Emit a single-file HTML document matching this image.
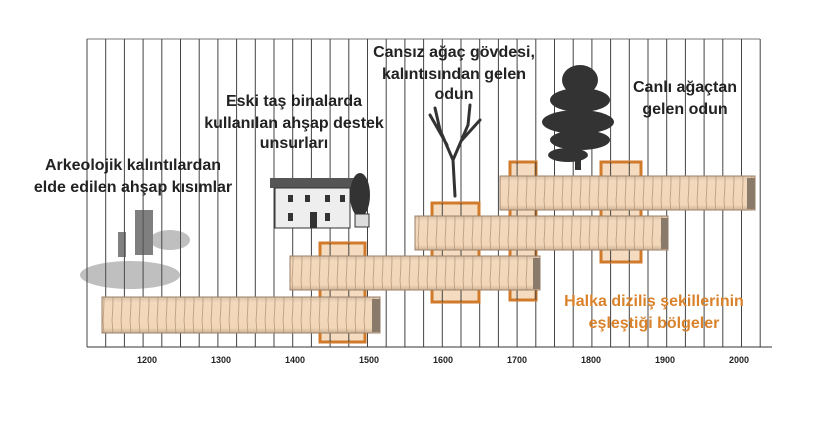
<!DOCTYPE html>
<html><head><meta charset="utf-8"><style>
body{margin:0;background:#fff;}
svg text{font-family:"Liberation Sans",sans-serif;font-weight:bold;}
</style></head><body>
<svg width="825" height="428" viewBox="0 0 825 428" xmlns="http://www.w3.org/2000/svg">
<defs>
<linearGradient id="wood" x1="0" y1="0" x2="0" y2="1">
<stop offset="0" stop-color="#d9c2a8"/><stop offset="0.15" stop-color="#f3d9bd"/><stop offset="0.85" stop-color="#f2d6b8"/><stop offset="1" stop-color="#cdb296"/>
</linearGradient>
<pattern id="rings" width="9" height="40" patternUnits="userSpaceOnUse">
<path d="M4 0 Q6 20 4 40" stroke="#b89878" stroke-width="0.8" fill="none"/>
</pattern>
</defs>
<!-- grid -->
<line x1="87" y1="39" x2="760" y2="39" stroke="#777"/>
<path stroke="#444" stroke-width="1" fill="none" d="M87 39V347M105.7 39V347M124.4 39V347M143.1 39V347M161.8 39V347M180.5 39V347M199.2 39V347M217.9 39V347M236.6 39V347M255.3 39V347M274 39V347M292.7 39V347M311.4 39V347M330.1 39V347M348.8 39V347M367.5 39V347M386.2 39V347M404.9 39V347M423.6 39V347M442.3 39V347M461 39V347M479.7 39V347M498.4 39V347M517.1 39V347M535.8 39V347M554.5 39V347M573.2 39V347M591.9 39V347M610.6 39V347M629.3 39V347M648 39V347M666.7 39V347M685.4 39V347M704.1 39V347M722.8 39V347M741.5 39V347M760.2 39V347"/>
<line x1="87" y1="347" x2="772" y2="347" stroke="#333"/>
<!-- axis labels -->
<g font-size="9" fill="#222" text-anchor="middle">
<text x="147" y="363">1200</text><text x="221" y="363">1300</text><text x="295" y="363">1400</text>
<text x="369" y="363">1500</text><text x="443" y="363">1600</text><text x="517" y="363">1700</text>
<text x="591" y="363">1800</text><text x="665" y="363">1900</text><text x="739" y="363">2000</text>
</g>
<!-- orange boxes -->
<g fill="#f5dcc0" stroke="#d07a2a" stroke-width="3">
<rect x="320" y="243" width="45" height="99"/>
<rect x="432" y="203" width="47" height="99"/>
<rect x="510" y="162" width="26" height="138"/>
<rect x="601" y="162" width="40" height="100"/>
</g>
<path stroke="#444" stroke-width="1" d="M330.1 243V342M348.8 243V342M442.3 203V302M461 203V302M517.1 162V300M535.8 162V300M610.6 162V262M629.3 162V262"/>
<!-- logs -->
<g stroke="#9a8068" stroke-width="1">
<rect x="102" y="297" width="278" height="36" fill="url(#wood)"/>
<rect x="102" y="297" width="278" height="36" fill="url(#rings)"/>
<rect x="290" y="256" width="250" height="34" fill="url(#wood)"/>
<rect x="290" y="256" width="250" height="34" fill="url(#rings)"/>
<rect x="415" y="216" width="253" height="34" fill="url(#wood)"/>
<rect x="415" y="216" width="253" height="34" fill="url(#rings)"/>
<rect x="500" y="176" width="255" height="34" fill="url(#wood)"/>
<rect x="500" y="176" width="255" height="34" fill="url(#rings)"/>
</g>
<g fill="#8a7a6a">
<rect x="372" y="299" width="8" height="33"/><rect x="747" y="178" width="8" height="31"/>
<rect x="533" y="258" width="7" height="31"/><rect x="661" y="218" width="7" height="31"/>
</g>
<!-- castle illustration -->
<g fill="#555" opacity="0.75">
<rect x="135" y="210" width="18" height="45"/>
<rect x="118" y="232" width="8" height="25"/>
<ellipse cx="130" cy="275" rx="50" ry="14" opacity="0.5"/>
<ellipse cx="170" cy="240" rx="20" ry="10" opacity="0.5"/>
</g>
<!-- house illustration -->
<g>
<rect x="270" y="178" width="85" height="10" fill="#555"/>
<rect x="275" y="188" width="75" height="40" fill="#eee" stroke="#333"/>
<g fill="#333"><rect x="288" y="195" width="5" height="7"/><rect x="305" y="195" width="5" height="7"/><rect x="325" y="195" width="5" height="7"/><rect x="340" y="195" width="5" height="7"/><rect x="288" y="213" width="5" height="8"/><rect x="325" y="213" width="5" height="8"/><rect x="310" y="212" width="7" height="16"/></g>
<ellipse cx="360" cy="195" rx="10" ry="22" fill="#333"/>
<rect x="355" y="214" width="14" height="13" fill="#ddd" stroke="#333"/>
</g>
<!-- dead tree -->
<g stroke="#333" stroke-width="3" fill="none" stroke-linecap="round">
<path d="M455 196 L453 160 L440 130 M453 160 L468 125 M447 145 L430 115 M462 140 L480 120 M440 130 L435 108 M468 125 L470 105"/>
</g>
<!-- live tree -->
<g fill="#333">
<rect x="575" y="120" width="6" height="50"/>
<ellipse cx="580" cy="80" rx="18" ry="15"/>
<ellipse cx="580" cy="100" rx="30" ry="12"/>
<ellipse cx="578" cy="122" rx="36" ry="12"/>
<ellipse cx="580" cy="140" rx="30" ry="10"/>
<ellipse cx="568" cy="155" rx="20" ry="7"/>
</g>
<!-- labels -->
<g font-size="16" fill="#222" text-anchor="middle">
<text x="133" y="170">Arkeolojik kalıntılardan</text>
<text x="133" y="192">elde edilen ahşap kısımlar</text>
<text x="294" y="106">Eski taş binalarda</text>
<text x="294" y="128">kullanılan ahşap destek</text>
<text x="294" y="148">unsurları</text>
<text x="454" y="57">Cansız ağaç gövdesi,</text>
<text x="454" y="79">kalıntısından gelen</text>
<text x="454" y="99">odun</text>
<text x="685" y="92">Canlı ağaçtan</text>
<text x="685" y="114">gelen odun</text>
</g>
<g font-size="16" fill="#d9822b" text-anchor="middle">
<text x="654" y="306">Halka diziliş şekillerinin</text>
<text x="654" y="328">eşleştiği bölgeler</text>
</g>
</svg>
</body></html>
